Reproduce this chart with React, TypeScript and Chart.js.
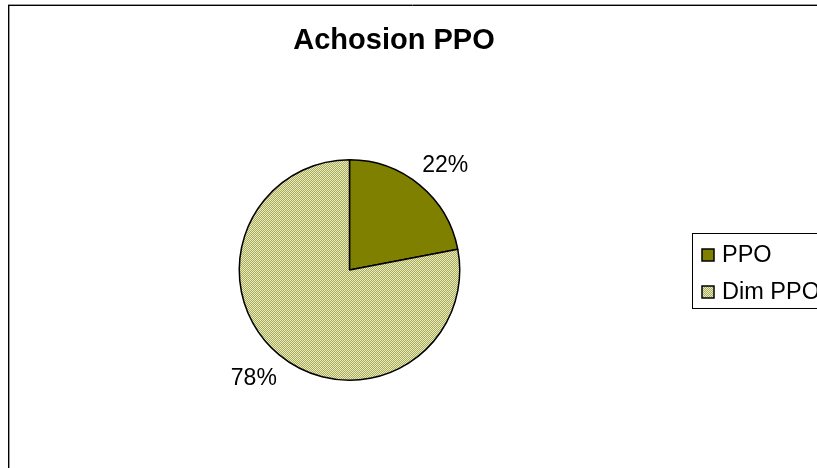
import React, { useEffect, useRef } from "react";
import { Chart, registerables } from "chart.js";

Chart.register(...registerables);

const chartTitle = "Achosion PPO";
const categories = ["PPO", "Dim PPO"];
const shareValues = [22, 78];
const percentLabels = ["22%", "78%"];

const FONT = "'Liberation Sans', Arial, sans-serif";

function makePattern(): CanvasPattern | string {
  const c = document.createElement("canvas");
  c.width = 2;
  c.height = 2;
  const x = c.getContext("2d");
  if (!x) return "#C8C88C";
  x.fillStyle = "#A8AA5C";
  x.fillRect(0, 0, 2, 2);
  x.fillStyle = "#EBEBC0";
  x.fillRect(0, 0, 1, 1);
  x.fillRect(1, 1, 1, 1);
  const p = x.createPattern(c, "repeat");
  return p || "#C8C88C";
}

const decorPlugin = {
  id: "decor",
  beforeDraw(chart: any) {
    const ctx = chart.ctx;
    ctx.save();
    ctx.fillStyle = "#ffffff";
    ctx.fillRect(0, 0, chart.width, chart.height);
    ctx.strokeStyle = "#9a9a9a";
    ctx.lineWidth = 1;
    ctx.beginPath();
    ctx.moveTo(8, 4.5);
    ctx.lineTo(chart.width, 4.5);
    ctx.moveTo(9.5, 6);
    ctx.lineTo(9.5, chart.height);
    ctx.stroke();
    ctx.strokeStyle = "#000000";
    ctx.beginPath();
    ctx.moveTo(8, 5.5);
    ctx.lineTo(chart.width, 5.5);
    ctx.moveTo(8.5, 5);
    ctx.lineTo(8.5, chart.height);
    ctx.stroke();
    ctx.restore();
  },
  afterDraw(chart: any) {
    const ctx = chart.ctx;
    ctx.save();
    ctx.fillStyle = "#000000";
    ctx.font = `bold 29px ${FONT}`;
    ctx.textAlign = "center";
    ctx.textBaseline = "alphabetic";
    ctx.fillText(chartTitle, 394, 49);

    const meta = chart.getDatasetMeta(0);
    ctx.font = `23px ${FONT}`;
    const capH = 16.5;
    meta.data.forEach((arc: any, i: number) => {
      const mid = (arc.startAngle + arc.endAngle) / 2 + 0.04;
      const d = arc.outerRadius + 33;
      const cx = arc.x + Math.cos(mid) * d;
      const cy = arc.y + Math.sin(mid) * d;
      ctx.textAlign = "center";
      ctx.fillText(percentLabels[i], cx, cy + capH / 2);
    });

    const ds = chart.data.datasets[0];
    ctx.strokeStyle = "#000000";
    ctx.lineWidth = 1;
    ctx.strokeRect(692.5, 233.5, 200, 75);
    const rows = [254, 291];
    chart.data.labels.forEach((lab: string, i: number) => {
      const yc = rows[i];
      ctx.fillStyle = ds.backgroundColor[i];
      ctx.fillRect(702, yc - 5, 12, 12);
      ctx.strokeStyle = "#000000";
      ctx.lineWidth = 1.5;
      ctx.strokeRect(702, yc - 5, 12, 12);
      ctx.fillStyle = "#000000";
      ctx.font = `23.5px ${FONT}`;
      ctx.textAlign = "left";
      ctx.fillText(lab, 722, yc + 8);
    });
    ctx.restore();
  },
};

export default function App() {
  const ref = useRef<HTMLCanvasElement | null>(null);
  useEffect(() => {
    document.body.style.margin = "0";
    const canvas = ref.current;
    if (!canvas) return;
    const chart = new Chart(canvas, {
      type: "pie",
      data: {
        labels: categories,
        datasets: [
          {
            data: shareValues,
            backgroundColor: ["#808000", makePattern()],
            borderColor: "#000000",
            borderWidth: 1.5,
          },
        ],
      },
      options: {
        responsive: false,
        animation: false,
        layout: { padding: { left: 238, right: 817 - 461, top: 159, bottom: 468 - 381 } },
        plugins: {
          legend: { display: false },
          title: { display: false },
          tooltip: { enabled: false },
        },
      },
      plugins: [decorPlugin],
    });
    return () => chart.destroy();
  }, []);
  return (
    <div style={{ width: 817, height: 468, overflow: "hidden" }}>
      <canvas ref={ref} width={817} height={468} style={{ display: "block" }} />
    </div>
  );
}
